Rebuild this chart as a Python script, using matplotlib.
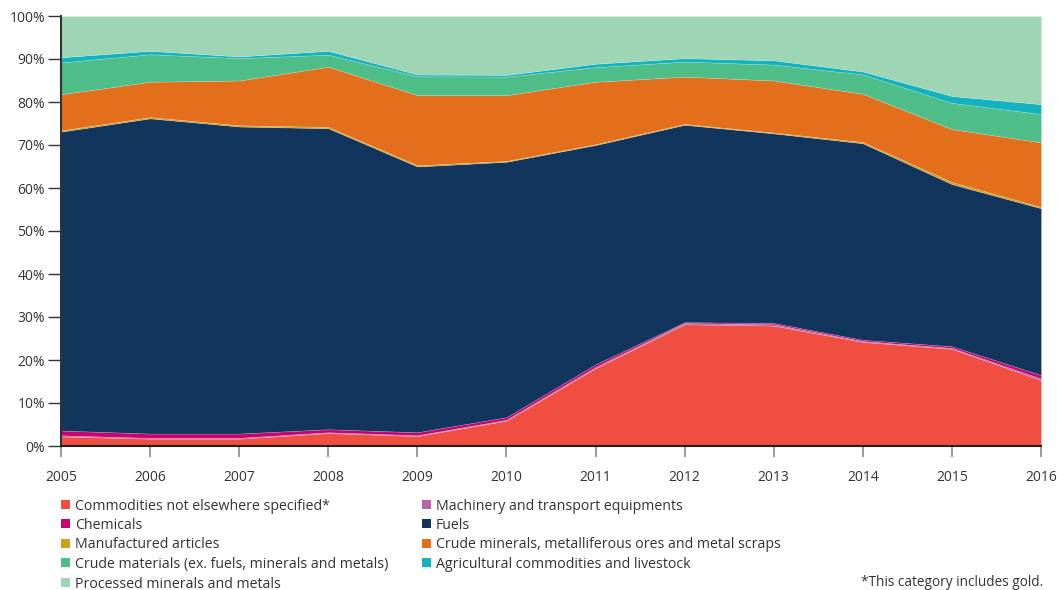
import matplotlib
matplotlib.use("Agg")
import matplotlib.pyplot as plt
from matplotlib.patches import Rectangle
from matplotlib.ticker import FuncFormatter

years = [2005, 2006, 2007, 2008, 2009, 2010, 2011, 2012, 2013, 2014, 2015, 2016]

commodities_nes = [2.2, 1.7, 1.7, 3.0, 2.3, 5.9, 18.1, 28.3, 28.0, 24.2, 22.6, 15.3]
machinery = [0.3, 0.2, 0.2, 0.2, 0.2, 0.2, 0.3, 0.3, 0.3, 0.2, 0.2, 0.4]
chemicals = [1.1, 1.0, 1.0, 0.7, 0.7, 0.6, 0.6, 0.2, 0.3, 0.3, 0.4, 0.8]
fuels = [69.5, 73.3, 71.4, 70.0, 61.8, 59.4, 51.0, 45.9, 44.1, 45.7, 37.7, 38.8]
manufactured = [0.3, 0.3, 0.3, 0.3, 0.3, 0.2, 0.2, 0.2, 0.2, 0.3, 0.5, 0.3]
crude_minerals = [8.4, 8.2, 10.4, 14.0, 16.3, 15.3, 14.5, 11.0, 12.1, 11.2, 12.3, 15.0]
crude_materials = [7.4, 6.4, 5.2, 2.8, 4.4, 4.3, 3.4, 3.5, 3.7, 4.5, 6.1, 6.6]
agricultural = [1.2, 0.8, 0.4, 0.9, 0.4, 0.4, 0.8, 0.8, 1.0, 0.7, 1.6, 2.3]
processed = [9.6, 8.1, 9.4, 8.1, 13.6, 13.7, 11.1, 9.8, 10.3, 12.9, 18.6, 20.5]

labels = [
    "Commodities not elsewhere specified*",
    "Machinery and transport equipments",
    "Chemicals",
    "Fuels",
    "Manufactured articles",
    "Crude minerals, metalliferous ores and metal scraps",
    "Crude materials (ex. fuels, minerals and metals)",
    "Agricultural commodities and livestock",
    "Processed minerals and metals",
]
colors = ["#EF4E40", "#B865A8", "#C7036F", "#12355E", "#C9A220",
          "#E36F1D", "#4FBD87", "#12B3BF", "#9ED5B5"]

series = [commodities_nes, machinery, chemicals, fuels, manufactured,
          crude_minerals, crude_materials, agricultural, processed]

plt.rcParams['font.family'] = ['Open Sans', 'DejaVu Sans']

W, H = 1058, 590
fig = plt.figure(figsize=(W/100, H/100), dpi=100)
ax = fig.add_axes([61/W, 1-446/H, (1041-61)/W, (446-16)/H])

ax.stackplot(years, *series, colors=colors, linewidth=0.4,
             edgecolor=(1, 1, 1, 0.25))

ax.set_xlim(2005, 2016)
ax.set_ylim(0, 100)
ax.set_yticks(range(0, 101, 10))
ax.yaxis.set_major_formatter(FuncFormatter(lambda v, p: f"{int(v)}%"))
ax.set_xticks(years)
ax.set_xticklabels([str(y) for y in years])

for s in ["top", "right"]:
    ax.spines[s].set_visible(False)
ax.spines["left"].set_color("#333333")
ax.spines["left"].set_linewidth(1.5)
ax.spines["bottom"].set_color("#222222")
ax.spines["bottom"].set_linewidth(1.5)

ax.tick_params(axis="y", length=9.5, width=1, color="#333333",
               labelsize=10, labelcolor="#333333", pad=2)
ax.tick_params(axis="x", length=8, width=1.2, color="#888888",
               labelsize=10, labelcolor="#333333", pad=9)

# Legend laid out row-wise in two columns
col_x = [61, 422]
row_y = [504, 523.5, 543, 562.5, 582]
sq = 9
for i, (lab, col) in enumerate(zip(labels, colors)):
    r, c = divmod(i, 2)
    x0, yc = col_x[c], row_y[r]
    fig.patches.append(Rectangle((x0/W, 1-(yc+sq/2)/H), sq/W, sq/H,
                                 transform=fig.transFigure, facecolor=col,
                                 edgecolor="none"))
    fig.text((x0+sq+5)/W, 1-yc/H, lab, ha="left", va="center_baseline",
             fontsize=10.2, color="#333333")

fig.text(1043/W, 1-581/H, "*This category includes gold.", ha="right",
         va="center_baseline", fontsize=9.8, color="#333333")

fig.savefig("out.png", dpi=100)
